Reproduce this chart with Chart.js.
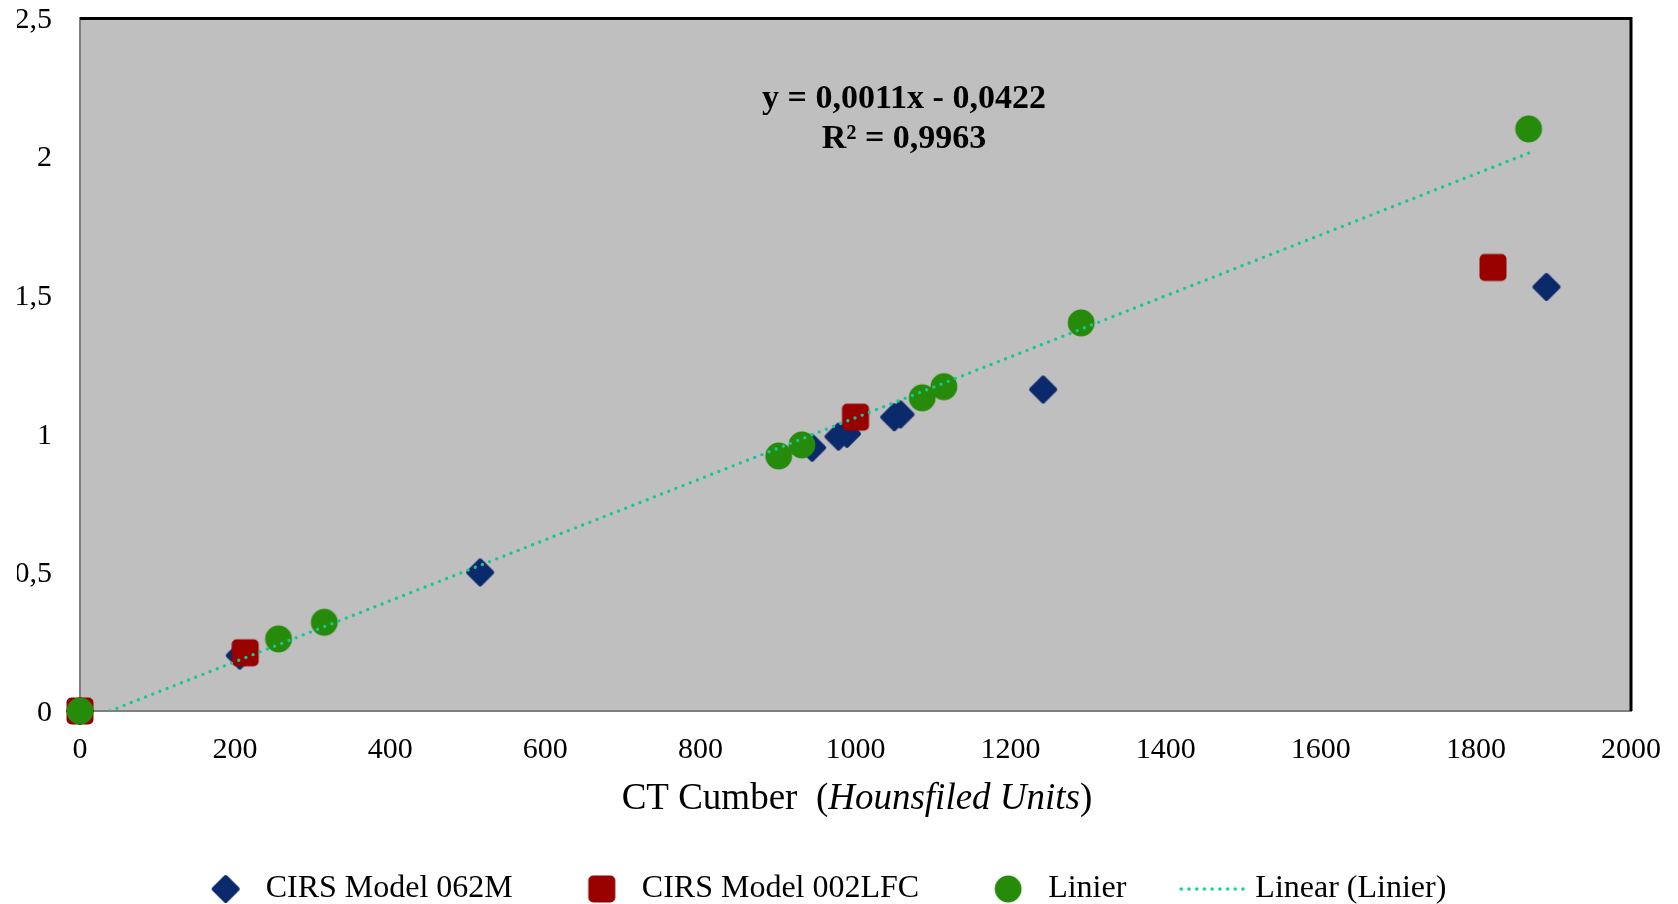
<!DOCTYPE html>
<html>
<head>
<meta charset="utf-8">
<script src="https://cdn.jsdelivr.net/npm/chart.js@4"></script>
<style>
  html, body { margin: 0; padding: 0; background: #ffffff; }
  #wrap { width: 1678px; height: 904px; }
</style>
</head>
<body>
<div id="wrap"><canvas id="chart" width="1678" height="904"></canvas></div>
<script>
// ## data ##
const cirs062mX = [0, 206, 516, 944, 978, 989, 1050, 1058, 1242, 1891];
const cirs062mY = [0, 0.20, 0.50, 0.95, 0.99, 1.00, 1.06, 1.07, 1.16, 1.53];
const cirs002X = [0, 213, 1000, 1822];
const cirs002Y = [0, 0.21, 1.06, 1.60];
const linierX = [0, 256, 315, 901, 931, 1086, 1114, 1291, 1868];
const linierY = [0, 0.26, 0.32, 0.92, 0.96, 1.13, 1.17, 1.40, 2.10];
const trendSlope = 0.0011;
const trendIntercept = -0.0422;
const xTicks = [0, 200, 400, 600, 800, 1000, 1200, 1400, 1600, 1800, 2000];
const yTicks = [0, 0.5, 1, 1.5, 2, 2.5];
const seriesNames = ['CIRS Model 062M', 'CIRS Model 002LFC', 'Linier', 'Linear (Linier)'];
const equationLines = ['y = 0,0011x - 0,0422', 'R² = 0,9963'];

const FONT = "'Liberation Serif', 'Times New Roman', serif";
const BLUE = '#0a2a6b';
const RED = '#990000';
const GREEN = '#268a0a';
const TEAL = '#14c896';

function toPoints(xs, ys) {
    return xs.map((x, i) => ({ x: x, y: ys[i] }));
}

// trendline runs from where it crosses the x axis to the last Linier point
const trendStart = -trendIntercept / trendSlope;
const trendEnd = Math.max(...linierX);
const trendData = [
    { x: trendStart, y: 0 },
    { x: trendEnd, y: trendSlope * trendEnd + trendIntercept }
];

// marker images (rounded shapes like the Excel markers)
function makeMarker(kind, color) {
    const c = document.createElement('canvas');
    c.width = 32; c.height = 32;
    const g = c.getContext('2d');
    g.fillStyle = color;
    g.strokeStyle = color;
    g.lineJoin = 'round';
    g.lineWidth = 4;
    g.beginPath();
    if (kind === 'diamond') {
        g.moveTo(16, 4); g.lineTo(28, 16); g.lineTo(16, 28); g.lineTo(4, 16); g.closePath();
        g.fill(); g.stroke();
    } else if (kind === 'square') {
        g.roundRect(2.5, 2.5, 27, 27, 5);
        g.fill();
    } else {
        g.arc(16, 16, 13.4, 0, Math.PI * 2);
        g.fill();
    }
    return c;
}
function makeDotLine(color) {
    const c = document.createElement('canvas');
    c.width = 72; c.height = 8;
    const g = c.getContext('2d');
    g.strokeStyle = color;
    g.lineWidth = 3.4;
    g.lineCap = 'round';
    g.setLineDash([0, 7.7]);
    g.beginPath(); g.moveTo(2, 4); g.lineTo(71, 4); g.stroke();
    return c;
}
const diamondImg = makeMarker('diamond', BLUE);
const squareImg = makeMarker('square', RED);
const circleImg = makeMarker('circle', GREEN);
const dotLineImg = makeDotLine(TEAL);

// gray plot area, borders, equation and axis title
const decor = {
    id: 'decor',
    beforeDraw(chart) {
        const { ctx, chartArea: a } = chart;
        ctx.save();
        ctx.fillStyle = '#bfbfbf';
        ctx.fillRect(a.left, a.top, a.right - a.left, a.bottom - a.top);
        ctx.restore();
    },
    afterDatasetsDraw(chart) {
        const { ctx, chartArea: a } = chart;
        ctx.save();
        ctx.strokeStyle = '#000000';
        ctx.lineWidth = 3;
        ctx.beginPath();
        ctx.moveTo(a.left, a.top + 0.5);
        ctx.lineTo(a.right, a.top + 0.5);
        ctx.lineTo(a.right, a.bottom);
        ctx.stroke();

        // trendline equation
        ctx.fillStyle = '#000000';
        ctx.font = 'bold 34px ' + FONT;
        ctx.textAlign = 'center';
        ctx.textBaseline = 'alphabetic';
        ctx.fillText(equationLines[0], 904, 108);
        ctx.fillText(equationLines[1], 904, 148);

        // x axis title, middle part in italics
        const parts = [
            { t: 'CT Cumber  (', f: '37px ' + FONT },
            { t: 'Hounsfiled Units', f: 'italic 37px ' + FONT },
            { t: ')', f: '37px ' + FONT }
        ];
        let total = 0;
        parts.forEach(p => { ctx.font = p.f; p.w = ctx.measureText(p.t).width; total += p.w; });
        let x = 857 - total / 2;
        ctx.textAlign = 'left';
        parts.forEach(p => { ctx.font = p.f; ctx.fillText(p.t, x, 809); x += p.w; });
        ctx.restore();
    }
};

const chart = new Chart(document.getElementById('chart'), {
    type: 'scatter',
    data: {
        datasets: [{
            label: seriesNames[0],
            data: toPoints(cirs062mX, cirs062mY),
            pointStyle: diamondImg,
            pointRadius: 13,
            pointHoverRadius: 13,
            backgroundColor: BLUE,
            borderColor: BLUE,
            clip: false,
            order: 4
        }, {
            label: seriesNames[1],
            data: toPoints(cirs002X, cirs002Y),
            pointStyle: squareImg,
            pointRadius: 13,
            pointHoverRadius: 13,
            backgroundColor: RED,
            borderColor: RED,
            clip: false,
            order: 3
        }, {
            label: seriesNames[2],
            data: toPoints(linierX, linierY),
            pointStyle: circleImg,
            pointRadius: 13,
            pointHoverRadius: 13,
            backgroundColor: GREEN,
            borderColor: GREEN,
            clip: false,
            order: 2
        }, {
            type: 'line',
            label: seriesNames[3],
            data: trendData,
            showLine: true,
            fill: false,
            borderColor: TEAL,
            borderWidth: 3.4,
            borderDash: [0, 7.7],
            borderCapStyle: 'round',
            pointRadius: 0,
            pointStyle: dotLineImg,
            order: 1
        }]
    },
    options: {
        responsive: false,
        animation: false,
        devicePixelRatio: 1,
        layout: {
            padding: { left: 17, right: 47, top: 18, bottom: -11 }
        },
        plugins: {
            tooltip: { enabled: false },
            legend: {
                position: 'bottom',
                labels: {
                    usePointStyle: true,
                    pointStyleWidth: 48,
                    padding: 65,
                    color: '#000000',
                    font: { family: FONT, size: 32 },
                    sort: (a, b) => a.datasetIndex - b.datasetIndex
                }
            }
        },
        scales: {
            x: {
                type: 'linear',
                min: 0,
                max: 2000,
                afterBuildTicks: (scale) => { scale.ticks = xTicks.map(v => ({ value: v })); },
                afterFit: (scale) => { scale.height = 97; },
                grid: { display: false, drawTicks: true, tickLength: 21 },
                border: { display: true, color: '#7f7f7f', width: 2 },
                ticks: {
                    color: '#000000',
                    padding: 0,
                    maxRotation: 0,
                    font: { family: FONT, size: 30 },
                    callback: (v) => String(v)
                }
            },
            y: {
                min: 0,
                max: 2.5,
                afterBuildTicks: (scale) => { scale.ticks = yTicks.map(v => ({ value: v })); },
                afterFit: (scale) => { scale.width = 63; },
                grid: { display: false, drawTicks: true, tickLength: 28 },
                border: { display: true, color: '#7f7f7f', width: 2 },
                ticks: {
                    color: '#000000',
                    padding: 0,
                    labelOffset: 2,
                    font: { family: FONT, size: 30 },
                    callback: (v) => String(v).replace('.', ',')
                }
            }
        }
    },
    plugins: [decor]
});
</script>
</body>
</html>
